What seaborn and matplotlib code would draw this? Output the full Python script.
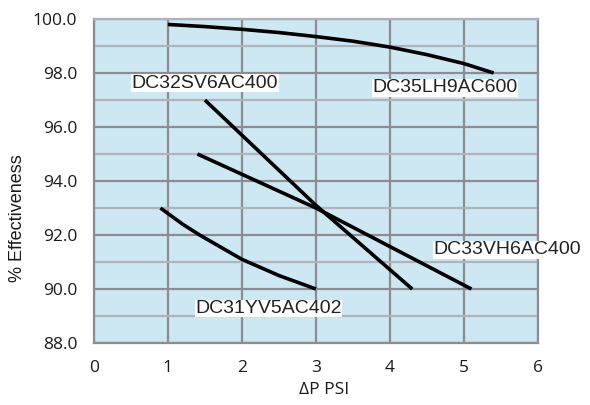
import pandas as pd
import seaborn as sns
import matplotlib.pyplot as plt
from matplotlib.ticker import MultipleLocator

# --- 数据 ---
lh9_x = [1.0, 1.5, 2.0, 2.5, 3.0, 3.5, 4.0, 4.5, 5.0, 5.4]
lh9_y = [99.8, 99.72, 99.62, 99.5, 99.35, 99.18, 98.96, 98.68, 98.35, 98.0]

sv6_x = [1.5, 3.0, 4.3]
sv6_y = [97.0, 93.1, 90.0]

vh6_x = [1.4, 3.0, 5.1]
vh6_y = [95.0, 93.0, 90.0]

yv5_x = [0.9, 1.2, 1.43, 2.0, 2.5, 3.0]
yv5_y = [93.0, 92.4, 92.0, 91.1, 90.5, 90.0]

names = ["DC35LH9AC600", "DC32SV6AC400", "DC33VH6AC400", "DC31YV5AC402"]
label_pos = {
    "DC35LH9AC600": (4.74, 97.45),
    "DC32SV6AC400": (1.5, 97.63),
    "DC33VH6AC400": (5.58, 91.45),
    "DC31YV5AC402": (2.36, 89.28),
}

series = [(lh9_x, lh9_y), (sv6_x, sv6_y), (vh6_x, vh6_y), (yv5_x, yv5_y)]
df = pd.concat(
    [pd.DataFrame({"dp": x, "eff": y, "model": n}) for n, (x, y) in zip(names, series)],
    ignore_index=True,
)

# --- 绘图 ---
sns.set_style("white")
plt.rcParams['font.family'] = ['Open Sans', 'DejaVu Sans']

fig = plt.figure(figsize=(5.9, 4.05), dpi=100)
ax = fig.add_axes([0.159, 0.153, 0.753, 0.8])
ax.set_facecolor("#cde7f3")

for n in names:
    sns.lineplot(data=df[df["model"] == n], x="dp", y="eff", ax=ax,
                 color="black", linewidth=2.6, sort=False, estimator=None,
                 solid_capstyle="butt", zorder=3)

ax.set_xlim(0, 6)
ax.set_ylim(88, 100)
ax.xaxis.set_major_locator(MultipleLocator(1))
ax.yaxis.set_major_locator(MultipleLocator(2))
ax.yaxis.set_minor_locator(MultipleLocator(1))
ax.yaxis.set_major_formatter(lambda v, p: f"{v:.1f}")

ax.grid(which="major", color="#8c8c92", linewidth=1.6, zorder=1)
ax.grid(which="minor", axis="y", color="#b1b3ba", linewidth=1.6, zorder=1)
ax.set_axisbelow(True)

for s in ax.spines.values():
    s.set_color("#8c8c92")
    s.set_linewidth(1.6)
ax.spines["top"].set_color("#b1b3ba")

ax.tick_params(which="major", length=4.5, width=1.6, color="#8c8c92",
               labelsize=12.5, labelcolor="#1a1a1a", pad=7.5)
ax.tick_params(which="minor", length=0)

ax.set_xlabel("ΔP PSI", fontsize=12.5, color="#1a1a1a", va="center")
ax.set_ylabel("% Effectiveness", fontsize=13, color="#1a1a1a", va="center",
              family=["Liberation Sans", "DejaVu Sans"])
ax.xaxis.set_label_coords(0.518, -0.145)
ax.yaxis.set_label_coords(-0.171, 0.386)

for n in names:
    tx, ty = label_pos[n]
    ax.text(tx, ty, n, fontsize=14, color="#222222", ha="center", va="center",
            family=["Liberation Sans", "DejaVu Sans"], zorder=4, clip_on=False,
            bbox=dict(facecolor="white", edgecolor="none", pad=0.3))

plt.savefig("out.png", dpi=100)
